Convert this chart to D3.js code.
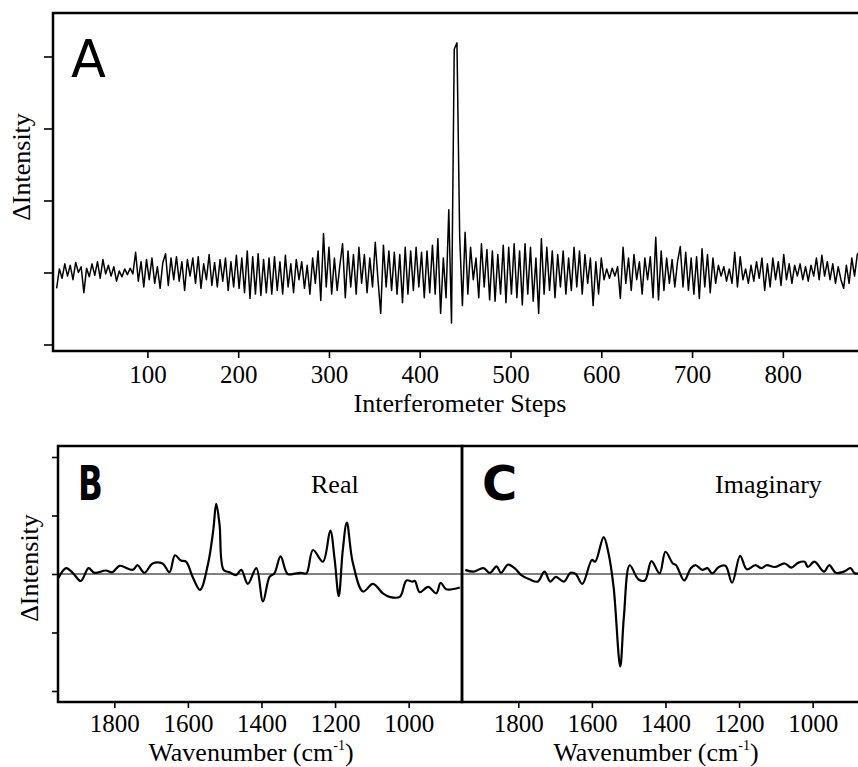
<!DOCTYPE html>
<html lang="en">
<head>
    <meta charset="UTF-8">
    <script src="https://cdn.jsdelivr.net/npm/d3@7"></script>
    <title>Interferogram and phase-resolved spectra</title>
    <style>
        body {
            margin: 0;
            background: #fff;
        }

        text {
            font-family: "Liberation Serif", "Times New Roman", "DejaVu Serif", serif;
            fill: #000;
        }

        .frame {
            fill: none;
            stroke: #000;
            stroke-width: 2.5px;
        }

        .tick line {
            stroke: #000;
            stroke-width: 1.6px;
        }

        .panel-letter {
            font-family: "DejaVu Sans", sans-serif;
        }
    </style>
</head>

<body>
    <svg id="chart" width="858" height="767"></svg>
    <script>

        // panel A: interferogram, one value every 3 steps starting at step 0
        const stepSize = 3;
        const interferogram = [
            -0.22, 0.05, -0.08, 0.12, -0.05, 0.1, -0.1, 0.14, 0.0, 0.08,
            -0.28, 0.06, -0.06, 0.12, -0.04, 0.15, -0.08, 0.18, -0.02, 0.1,
            -0.05, 0.08, -0.12, 0.02, -0.06, 0.05, -0.03, 0.06, -0.02, 0.28,
            -0.12, 0.15, -0.2, 0.18, -0.1, 0.2, -0.15, 0.08, -0.22, 0.14,
            0.26, -0.18, 0.2, -0.1, 0.22, -0.12, 0.15, -0.25, 0.18, -0.05,
            0.2, -0.15, 0.22, -0.22, 0.12, -0.1, 0.25, -0.18, 0.14, -0.2,
            0.18, -0.12, 0.2, -0.25, 0.15, -0.2, 0.24, -0.22, 0.2, -0.28,
            0.3, -0.36, 0.22, -0.3, 0.26, -0.32, 0.18, -0.28, 0.2, -0.3,
            0.22, -0.25, 0.15, -0.3, 0.24, -0.2, 0.12, -0.28, 0.18, -0.1,
            0.15, -0.22, 0.1, -0.3, 0.2, -0.15, 0.3, -0.39, 0.54, -0.2,
            0.35, -0.3, 0.2, -0.25, 0.1, 0.4, -0.35, 0.3, -0.2, 0.25,
            -0.3, 0.35, -0.15, 0.25, -0.28, 0.2, -0.2, 0.42, -0.1, -0.57,
            0.38, -0.2, 0.3, -0.25, 0.28, -0.3, 0.25, -0.42, 0.35, -0.3,
            0.3, -0.25, 0.35, -0.2, 0.28, -0.35, 0.3, -0.28, 0.38, -0.3,
            0.47, -0.57, 0.2, -0.35, 0.87, -0.7, 3.1, 3.19, 0.5, -0.46,
            0.56, -0.3, 0.35, -0.1, 0.2, -0.35, 0.4, -0.2, 0.32, -0.38,
            0.3, -0.4, 0.25, -0.3, 0.38, -0.42, 0.35, -0.3, 0.4, -0.35,
            0.3, -0.45, 0.4, -0.3, 0.35, -0.4, 0.2, -0.57, 0.47, -0.3,
            0.35, -0.25, 0.3, -0.35, 0.25, -0.2, 0.3, -0.3, 0.2, -0.25,
            0.35, -0.2, 0.3, -0.3, 0.25, -0.15, 0.2, -0.46, 0.15, -0.3,
            0.2, -0.1, 0.05, -0.08, 0.06, -0.05, 0.08, -0.36, 0.35, -0.15,
            0.2, -0.25, 0.25, -0.1, 0.15, -0.3, 0.2, -0.1, 0.22, -0.35,
            0.49, -0.38, 0.3, -0.25, 0.2, -0.15, 0.18, -0.2, 0.15, 0.36,
            -0.2, 0.28, -0.25, 0.2, -0.3, 0.22, -0.36, 0.33, -0.2, 0.25,
            -0.28, 0.2, -0.15, 0.1, -0.05, 0.08, -0.12, 0.05, -0.15, 0.28,
            -0.2, 0.22, -0.1, 0.05, -0.15, 0.1, -0.12, 0.15, -0.08, 0.2,
            -0.25, 0.12, -0.2, 0.2, -0.1, 0.15, -0.18, 0.25, -0.1, 0.12,
            -0.15, 0.1, -0.05, 0.12, -0.1, 0.08, -0.12, 0.1, -0.05, 0.2,
            -0.1, 0.24, -0.05, 0.15, -0.1, 0.12, -0.15, 0.08, -0.1, -0.22,
            0.1, -0.15, 0.2, -0.05, 0.25, 0.3
        ];
        const stepTicks = [100, 200, 300, 400, 500, 600, 700, 800];
        const intensityTicksA = [-1, 0, 1, 2, 3];

        // panel B: real part
        const realWavenumber = [1952, 1931, 1913, 1891, 1870, 1854, 1823, 1805, 1786, 1750,
            1737, 1718, 1696, 1669, 1650, 1635, 1619, 1605, 1587, 1567,
            1546, 1531, 1523, 1514, 1503, 1487, 1469, 1455, 1437, 1414,
            1396, 1378, 1365, 1348, 1329, 1306, 1292, 1278, 1260, 1233,
            1213, 1201, 1190, 1179, 1168, 1152, 1124, 1097, 1070, 1052,
            1024, 1006, 990, 983, 970, 947, 925, 913, 898, 861];
        const realValue = [-0.07, 0.1, 0.02, -0.12, 0.1, 0.02, 0.06, 0.03, 0.14, 0.07,
            0.15, 0.02, 0.18, 0.18, 0.03, 0.32, 0.23, 0.21, -0.05, -0.27,
            0.15, 0.75, 1.2, 0.85, 0.07, 0.03, -0.02, 0.07, -0.17, 0.1,
            -0.47, -0.05, 0.01, 0.3, 0.0, 0.01, 0.02, 0.01, 0.41, 0.21,
            0.74, 0.24, -0.38, 0.41, 0.88, 0.2, -0.3, -0.17, -0.33, -0.39,
            -0.39, -0.11, -0.13, -0.12, -0.31, -0.22, -0.33, -0.15, -0.26, -0.23];

        // panel C: imaginary part
        const imagWavenumber = [1944, 1922, 1895, 1877, 1859, 1847, 1828, 1810, 1792, 1770,
            1747, 1729, 1713, 1698, 1676, 1658, 1644, 1626, 1600, 1591,
            1568, 1555, 1541, 1523, 1513, 1497, 1474, 1456, 1438, 1416,
            1400, 1380, 1371, 1349, 1331, 1318, 1300, 1286, 1273, 1255,
            1237, 1219, 1197, 1179, 1156, 1139, 1125, 1103, 1076, 1058,
            1040, 1022, 1013, 995, 969, 955, 937, 915, 897, 885, 860];
        const imagValue = [0.07, 0.04, 0.1, 0.02, 0.13, 0.02, 0.16, 0.1, -0.02, -0.09,
            -0.13, 0.04, -0.13, -0.05, -0.13, 0.02, 0.0, -0.17, 0.24, 0.21,
            0.63, 0.36, -0.22, -1.58, -0.73, 0.15, -0.09, -0.11, 0.22, 0.01,
            0.38, 0.18, 0.15, -0.11, 0.1, 0.15, 0.07, 0.1, 0.01, 0.12,
            0.14, -0.15, 0.31, 0.08, 0.15, 0.1, 0.15, 0.12, 0.18, 0.11,
            0.19, 0.21, 0.12, 0.21, 0.04, 0.15, 0.02, 0.04, 0.1, 0.01, 0.05];

        const waveTicks = [1800, 1600, 1400, 1200, 1000];
        const intensityTicksBC = [-2, -1, 0, 1, 2];

        const svg = d3.select("#chart");

        // scales
        const xA = d3.scaleLinear().domain([-4, 885]).range([53, 860]);
        const yA = d3.scaleLinear().domain([-1, 3]).range([344.5, 56.5]);
        const xB = d3.scaleLinear().domain([1953, 855]).range([58, 462]);
        const xC = d3.scaleLinear().domain([1953, 855]).range([462, 866]);
        const yBC = d3.scaleLinear().domain([-2, 2]).range([691, 457]);

        const frameA = { left: 53, top: 13, bottom: 351, right: 860 };
        const frameBC = { top: 446, bottom: 702 };

        // clip paths so the traces stay inside their boxes
        const defs = svg.append("defs");
        defs.append("clipPath").attr("id", "clipA").append("rect")
            .attr("x", frameA.left).attr("y", frameA.top)
            .attr("width", frameA.right - frameA.left).attr("height", frameA.bottom - frameA.top);
        defs.append("clipPath").attr("id", "clipB").append("rect")
            .attr("x", xB.range()[0]).attr("y", frameBC.top)
            .attr("width", xB.range()[1] - xB.range()[0]).attr("height", frameBC.bottom - frameBC.top);
        defs.append("clipPath").attr("id", "clipC").append("rect")
            .attr("x", xC.range()[0]).attr("y", frameBC.top)
            .attr("width", xC.range()[1] - xC.range()[0]).attr("height", frameBC.bottom - frameBC.top);

        const styleAxis = (g, size) => {
            g.select(".domain").remove();
            g.attr("font-family", "Liberation Serif, serif").attr("font-size", size);
        };

        // ---------- panel A ----------
        const lineA = d3.line()
            .x((d, i) => xA(i * stepSize))
            .y(d => yA(d));

        svg.append("path")
            .datum(interferogram)
            .attr("clip-path", "url(#clipA)")
            .attr("d", lineA)
            .attr("fill", "none")
            .attr("stroke", "#000")
            .attr("stroke-width", 1.5)
            .attr("stroke-linejoin", "round");

        svg.append("g")
            .attr("transform", `translate(0,${frameA.bottom})`)
            .call(d3.axisBottom(xA).tickValues(stepTicks).tickFormat(d3.format("d")).tickSize(7).tickSizeOuter(0))
            .call(g => styleAxis(g, 25))
            .call(g => g.selectAll("text").attr("dy", null).attr("y", 32));

        svg.append("g")
            .attr("transform", `translate(${frameA.left},0)`)
            .call(d3.axisLeft(yA).tickValues(intensityTicksA).tickSize(9).tickFormat(""))
            .call(g => styleAxis(g, 25));

        svg.append("path")
            .attr("class", "frame")
            .attr("d", `M${frameA.right},${frameA.top}H${frameA.left}V${frameA.bottom}H${frameA.right}`);

        svg.append("text")
            .attr("x", 460).attr("y", 412)
            .attr("text-anchor", "middle")
            .attr("font-size", 26)
            .text("Interferometer Steps");

        svg.append("text")
            .attr("transform", "translate(30,167) rotate(-90)")
            .attr("text-anchor", "middle")
            .attr("font-size", 26)
            .text("\u0394Intensity");

        svg.append("text")
            .attr("class", "panel-letter")
            .attr("x", 71).attr("y", 77)
            .attr("font-size", 51)
            .text("A");

        // ---------- panels B and C ----------
        const realData = realWavenumber.map((w, i) => [w, realValue[i]]);
        const imagData = imagWavenumber.map((w, i) => [w, imagValue[i]]);

        // zero line across both panels
        svg.append("line")
            .attr("x1", xB.range()[0]).attr("x2", xC.range()[1])
            .attr("y1", yBC(0)).attr("y2", yBC(0))
            .attr("stroke", "#000").attr("stroke-width", 1);

        const lineB = d3.line()
            .x(d => xB(d[0])).y(d => yBC(d[1]))
            .curve(d3.curveCatmullRom.alpha(0.5));
        const lineC = d3.line()
            .x(d => xC(d[0])).y(d => yBC(d[1]))
            .curve(d3.curveCatmullRom.alpha(0.5));

        svg.append("path")
            .datum(realData)
            .attr("clip-path", "url(#clipB)")
            .attr("d", lineB)
            .attr("fill", "none").attr("stroke", "#000").attr("stroke-width", 2.2);

        svg.append("path")
            .datum(imagData)
            .attr("clip-path", "url(#clipC)")
            .attr("d", lineC)
            .attr("fill", "none").attr("stroke", "#000").attr("stroke-width", 2.2);

        [xB, xC].forEach(x => {
            svg.append("g")
                .attr("transform", `translate(0,${frameBC.bottom})`)
                .call(d3.axisBottom(x).tickValues(waveTicks).tickFormat(d3.format("d")).tickSize(6).tickSizeOuter(0))
                .call(g => styleAxis(g, 25))
                .call(g => g.selectAll("text").attr("dy", null).attr("y", 30));

            svg.append("rect")
                .attr("class", "frame")
                .attr("x", x.range()[0]).attr("y", frameBC.top)
                .attr("width", x.range()[1] - x.range()[0])
                .attr("height", frameBC.bottom - frameBC.top);
        });

        svg.append("g")
            .attr("transform", `translate(${xB.range()[0]},0)`)
            .call(d3.axisLeft(yBC).tickValues(intensityTicksBC).tickSize(6).tickFormat(""))
            .call(g => styleAxis(g, 25));

        // axis titles for B and C
        [251, 656].forEach(cx => {
            const t = svg.append("text")
                .attr("x", cx).attr("y", 761)
                .attr("text-anchor", "middle")
                .attr("font-size", 26);
            t.append("tspan").text("Wavenumber (cm");
            t.append("tspan").attr("font-size", 14).attr("dy", -11).text("-1");
            t.append("tspan").attr("dy", 11).text(")");
        });

        svg.append("text")
            .attr("transform", "translate(38,568) rotate(-90)")
            .attr("text-anchor", "middle")
            .attr("font-size", 26)
            .text("\u0394Intensity");

        svg.append("text")
            .attr("class", "panel-letter")
            .attr("transform", "translate(78,500) scale(0.68,1)")
            .attr("font-size", 48)
            .attr("font-weight", "bold")
            .text("B");

        svg.append("text")
            .attr("class", "panel-letter")
            .attr("x", 482).attr("y", 500)
            .attr("font-size", 48)
            .attr("font-weight", "bold")
            .text("C");

        svg.append("text")
            .attr("x", 311).attr("y", 493)
            .attr("font-size", 26)
            .text("Real");

        svg.append("text")
            .attr("x", 715).attr("y", 493)
            .attr("font-size", 26)
            .text("Imaginary");

    </script>
</body>

</html>
